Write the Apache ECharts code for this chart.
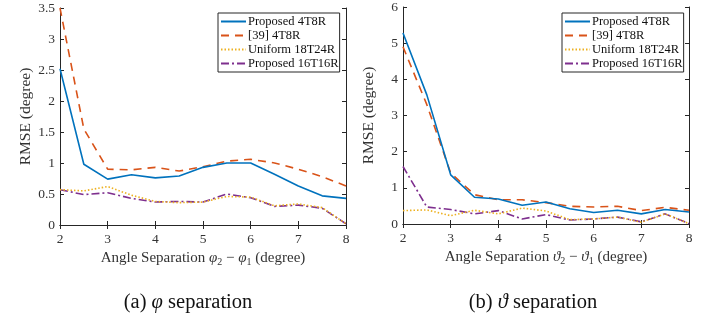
<!DOCTYPE html>
<html><head><meta charset="utf-8">
<script src="https://cdn.jsdelivr.net/npm/echarts@6/dist/echarts.min.js"></script>
<style>html,body{margin:0;padding:0;background:#fff}#c{width:715px;height:320px}</style>
</head><body><div id="c"></div>
<script>
const xValues = [2, 2.5, 3, 3.5, 4, 4.5, 5, 5.5, 6, 6.5, 7, 7.5, 8];
const seriesNames = ['Proposed 4T8R', '[39] 4T8R', 'Uniform 18T24R', 'Proposed 16T16R'];
// (a) phi separation
const phiProposed4T8R = [2.52, 0.98, 0.74, 0.81, 0.76, 0.79, 0.93, 1.0, 1.0, 0.82, 0.63, 0.47, 0.43];
const phiRef39_4T8R   = [3.5, 1.55, 0.90, 0.89, 0.93, 0.87, 0.94, 1.03, 1.06, 1.0, 0.90, 0.78, 0.63];
const phiUniform      = [0.57, 0.55, 0.62, 0.48, 0.38, 0.36, 0.37, 0.46, 0.45, 0.31, 0.34, 0.28, 0.02];
const phiProposed16   = [0.57, 0.49, 0.52, 0.43, 0.37, 0.38, 0.37, 0.50, 0.44, 0.30, 0.32, 0.27, 0.02];
// (b) theta separation
const thProposed4T8R  = [5.28, 3.57, 1.36, 0.74, 0.69, 0.52, 0.61, 0.42, 0.32, 0.38, 0.28, 0.40, 0.33];
const thRef39_4T8R    = [4.9, 3.3, 1.41, 0.81, 0.67, 0.67, 0.59, 0.49, 0.47, 0.49, 0.37, 0.46, 0.38];
const thUniform       = [0.37, 0.39, 0.23, 0.38, 0.28, 0.44, 0.36, 0.12, 0.14, 0.19, 0.05, 0.28, 0.01];
const thProposed16    = [1.59, 0.47, 0.40, 0.28, 0.37, 0.14, 0.26, 0.11, 0.14, 0.19, 0.06, 0.28, 0.01];

const leftY = {min: 0, max: 3.5, interval: 0.5};
const rightY = {min: 0, max: 6, interval: 1};

const colors = ['#0072BD', '#D95319', '#EDB120', '#7E2F8E'];
const dashes = ['solid', [8, 6], [1.5, 2], [8, 3, 2, 3]];
const FONT = 'Liberation Serif';
const axisCol = '#262626';
const txtCol = '#333';

function pairs(ys) { return xValues.map((x, i) => [x, ys[i]]); }

const grids = [
  {left: 60, top: 8, width: 286, height: 217},
  {left: 403, top: 7, width: 286, height: 217}
];

function xAxes(gi, name) {
  const base = {gridIndex: gi, type: 'value', min: 2, max: 8, interval: 1,
    axisLine: {show: true, lineStyle: {color: axisCol, width: 1}},
    axisTick: {show: true, inside: true, length: 4, lineStyle: {color: axisCol}},
    splitLine: {show: false}};
  return [
    Object.assign({}, base, {position: 'bottom',
      axisLabel: {fontFamily: FONT, fontSize: 13.5, color: txtCol, margin: 7},
      name: name, nameLocation: 'middle', nameGap: 20,
      nameTextStyle: {fontFamily: FONT, fontSize: 15, color: txtCol,
        rich: {
          t: {fontFamily: FONT, fontSize: 15, color: txtCol},
          i: {fontFamily: FONT, fontSize: 15, fontStyle: 'italic', color: txtCol},
          s: {fontFamily: FONT, fontSize: 10, color: txtCol, padding: [7, 0, 0, 0]}
        }}}),
    Object.assign({}, base, {position: 'top', axisLabel: {show: false}})
  ];
}
function yAxes(gi, r) {
  const base = {gridIndex: gi, type: 'value', min: r.min, max: r.max, interval: r.interval,
    axisLine: {show: true, lineStyle: {color: axisCol, width: 1}},
    axisTick: {show: true, inside: true, length: 4, lineStyle: {color: axisCol}},
    splitLine: {show: false}};
  return [
    Object.assign({}, base, {position: 'left',
      axisLabel: {fontFamily: FONT, fontSize: 13.5, color: txtCol, margin: 5},
      name: 'RMSE (degree)', nameLocation: 'middle', nameGap: 26,
      nameTextStyle: {fontFamily: FONT, fontSize: 15.5, color: txtCol}}),
    Object.assign({}, base, {position: 'right', axisLabel: {show: false}})
  ];
}

const xA = xAxes(0, '{t|Angle Separation }{i|φ}{s|2}{t| − }{i|φ}{s|1}{t| (degree)}')
  .concat(xAxes(1, '{t|Angle Separation }{i|ϑ}{s|2}{t| − }{i|ϑ}{s|1}{t| (degree)}'));
const yA = yAxes(0, leftY).concat(yAxes(1, rightY));

const leftData = [phiProposed4T8R, phiRef39_4T8R, phiUniform, phiProposed16];
const rightData = [thProposed4T8R, thRef39_4T8R, thUniform, thProposed16];
const series = [];
[leftData, rightData].forEach((arrs, gi) => {
  arrs.forEach((ys, k) => {
    series.push({type: 'line', name: seriesNames[k], xAxisIndex: gi * 2, yAxisIndex: gi * 2,
      data: pairs(ys), symbol: 'none', animation: false, z: 10 - k,
      lineStyle: {color: colors[k], width: 1.6, type: dashes[k]},
      itemStyle: {color: colors[k]}});
  });
});

function legend(left) {
  return {left: left, top: 13, orient: 'vertical', data: seriesNames,
    backgroundColor: '#fff', borderColor: '#262626', borderWidth: 1,
    padding: [2, 1, 2, 2], itemWidth: 25, itemHeight: 10, itemGap: 1,
    itemStyle: {opacity: 0},
    textStyle: {fontFamily: FONT, fontSize: 12.5, lineHeight: 13, color: '#111', padding: [0, 0, 0, -3]},
    selectedMode: false};
}

const capStyle = {fontFamily: FONT, fontSize: 20.5, fontWeight: 'normal', color: '#111',
  rich: {i: {fontFamily: FONT, fontSize: 20.5, fontStyle: 'italic', color: '#111'}}};

const chart = echarts.init(document.getElementById('c'), null, {renderer: 'canvas'});
chart.setOption({
  animation: false,
  backgroundColor: '#fff',
  grid: grids,
  xAxis: xA,
  yAxis: yA,
  legend: [legend(218), legend(562)],
  title: [
    {text: '(a) {i|φ} separation', left: 183, top: 287, textAlign: 'center', textStyle: capStyle},
    {text: '(b) {i|ϑ} separation', left: 528, top: 287, textAlign: 'center', textStyle: capStyle}
  ],
  series: series
});
</script></body></html>
